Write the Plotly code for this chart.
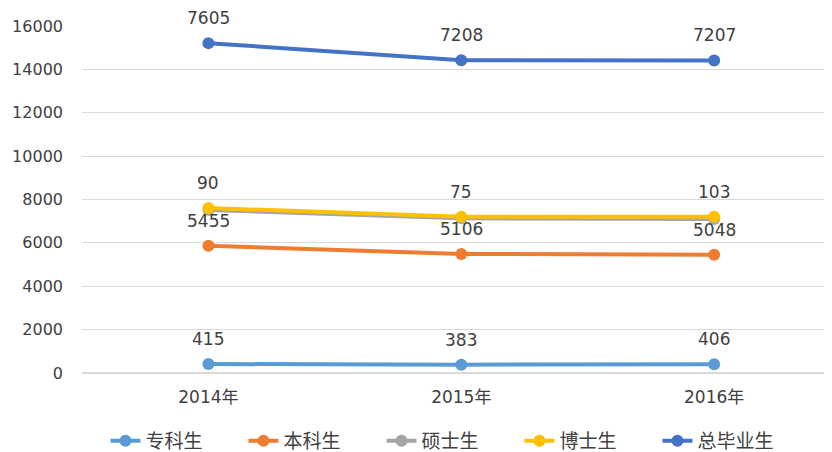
import numpy as np
import plotly.graph_objects as go

years = ["2014年", "2015年", "2016年"]
series_names = ["专科生", "本科生", "硕士生", "博士生", "总毕业生"]
zhuanke = [415, 383, 406]
benke = [5455, 5106, 5048]
shuoshi = [1645, 1644, 1650]
boshi = [90, 75, 103]
zong = [7605, 7208, 7207]
colors = ["#5B9BD5", "#ED7D31", "#A5A5A5", "#FFC000", "#4472C4"]
show_labels = [True, True, False, True, True]
y_ticks = [0, 2000, 4000, 6000, 8000, 10000, 12000, 14000, 16000]

values = [zhuanke, benke, shuoshi, boshi, zong]
stacked = np.cumsum(np.array(values), axis=0)

font_family = "DejaVu Sans, Noto Sans CJK SC, sans-serif"
W, H = 824, 444
fig = go.Figure()
annotations = []
for name, vals, cum, col, lab in zip(series_names, values, stacked, colors, show_labels):
    fig.add_trace(go.Scatter(
        x=years, y=cum, name=name, mode="lines+markers",
        line=dict(color=col, width=4),
        marker=dict(color=col, size=12),
    ))
    if lab:
        for xv, yv, v in zip(years, cum, vals):
            annotations.append(dict(
                x=xv, y=yv, text=str(v), showarrow=False, yshift=25,
                font=dict(size=17, color="#404040", family=font_family),
            ))

l, r, t, b = 73.5, 0, 18, 79
fig.update_layout(
    width=W, height=H,
    margin=dict(l=l, r=r, t=t, b=b, autoexpand=False),
    paper_bgcolor="white", plot_bgcolor="white",
    font=dict(family=font_family, color="#404040", size=16),
    annotations=annotations,
    showlegend=True,
    legend=dict(orientation="h", xref="paper", yref="container",
                x=(97 - l) / (W - l - r), xanchor="left", y=1 - 433 / H, yanchor="middle",
                font=dict(size=19, color="#404040", family="Noto Sans CJK SC, sans-serif"),
                entrywidth=93, entrywidthmode="pixels", tracegroupgap=0,
                bgcolor="rgba(0,0,0,0)"),
    xaxis=dict(type="category", range=[-0.5, 2.466], showgrid=False, showline=False,
               ticks="", automargin=False, ticklabelstandoff=12,
               tickfont=dict(size=17, color="#404040")),
    yaxis=dict(range=[0, 16000], tickvals=y_ticks, tickformat="d", showgrid=True,
               gridcolor="#D9D9D9", gridwidth=1, zeroline=True, zerolinecolor="#D9D9D9",
               showline=False, ticks="", automargin=False, ticklabelstandoff=18,
               tickfont=dict(size=16, color="#404040")),
)
fig.write_html("out.html")
